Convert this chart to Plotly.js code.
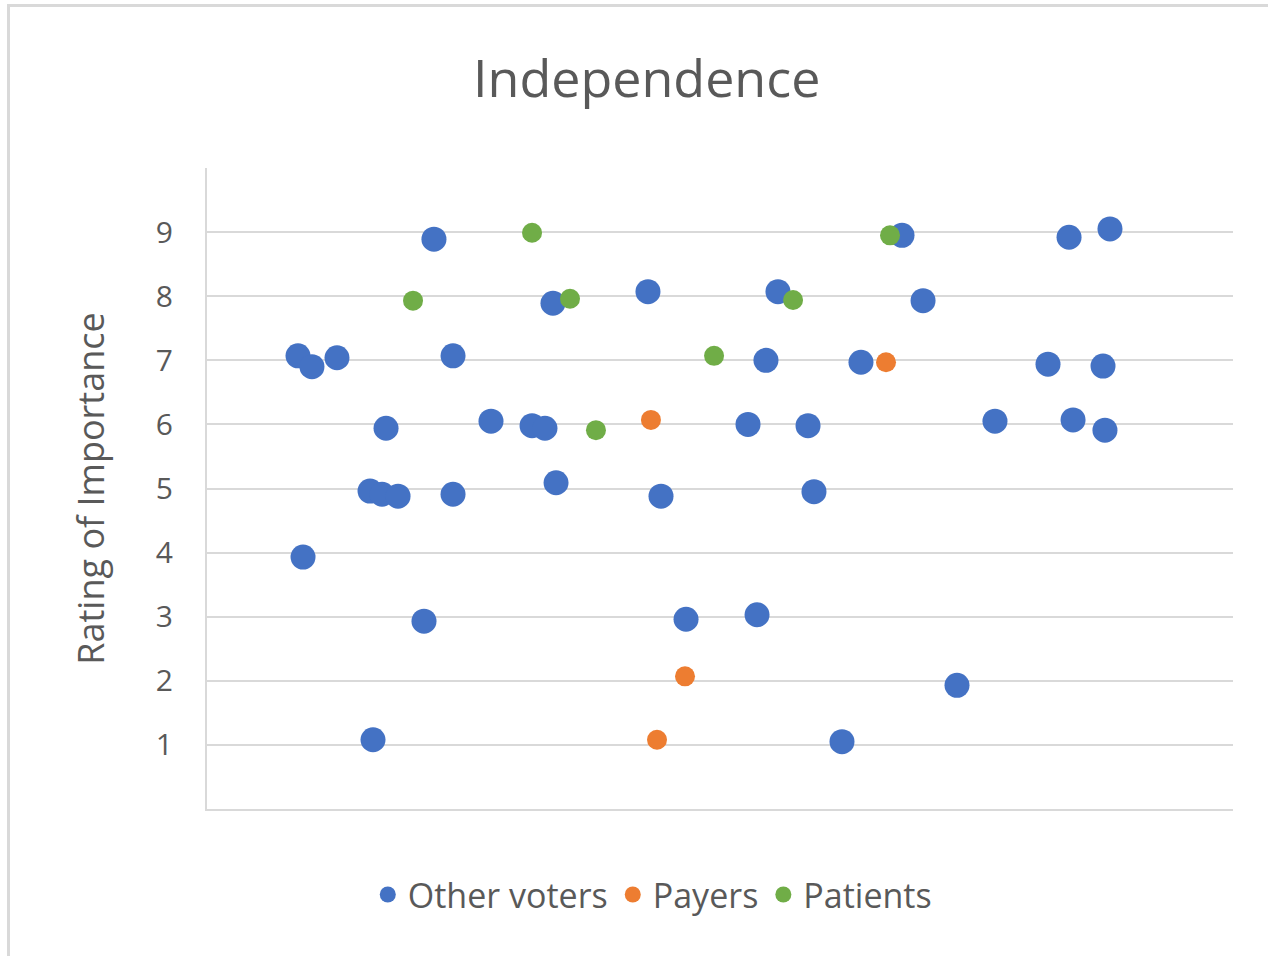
<!DOCTYPE html>
<html>
<head>
<meta charset="utf-8">
<script src="https://cdn.plot.ly/plotly-3.0.1.min.js"></script>
<style>
  html, body { margin: 0; padding: 0; background: #ffffff; }
  #chart { width: 1268px; height: 956px; }
  #frame { position: absolute; left: 7px; top: 4px; width: 1261px; height: 952px;
           border-top: 3px solid #d9d9d9; border-left: 3px solid #d9d9d9; pointer-events: none; }
</style>
</head>
<body>
<div id="chart"></div>
<div id="frame"></div>
<script>
// Jitter position (arbitrary horizontal units, 0-100) and rating for each voter
const otherX = [8.87, 10.23, 12.67, 22.12, 23.98, 17.45, 15.89, 17.06, 18.62, 23.98,
                9.36, 21.15, 16.18, 27.68, 31.68, 32.94, 33.72, 34.02, 42.98, 44.25,
                46.69, 53.61, 52.73, 55.65, 54.48, 58.58, 59.16, 61.89, 63.74, 67.74,
                69.79, 73.10, 76.80, 81.97, 84.02, 88.01, 84.41, 87.33, 87.52];
const otherY = [7.07, 6.90, 7.04, 8.89, 7.07, 5.94, 4.96, 4.91, 4.88, 4.91,
                3.93, 2.93, 1.08, 6.05, 5.98, 5.94, 7.89, 5.09, 8.07, 4.88,
                2.96, 3.03, 6.00, 8.07, 7.00, 5.98, 4.95, 1.05, 6.97, 8.95,
                7.93, 1.93, 6.05, 6.94, 8.92, 9.05, 6.07, 6.91, 5.91];
const payersX = [43.27, 66.18, 46.59, 43.86];
const payersY = [6.07, 6.97, 2.07, 1.08];
const patientsX = [20.08, 31.68, 35.38, 37.91, 49.42, 57.12, 66.57];
const patientsY = [7.93, 8.99, 7.96, 5.91, 7.07, 7.94, 8.95];

const seriesNames = ["Other voters", "Payers", "Patients"];
const yTickVals = [1, 2, 3, 4, 5, 6, 7, 8, 9, 10];
const yTickText = ["1", "2", "3", "4", "5", "6", "7", "8", "9", ""];
const chartTitle = "Independence";
const yTitle = "Rating of Importance";

const FONT = "'Open Sans', 'Noto Sans', sans-serif";
const TXT = "#595959";

const traces = [
  { x: otherX, y: otherY, name: seriesNames[0], type: "scatter", mode: "markers",
    marker: { color: "#4472c4", size: 25 } },
  { x: payersX, y: payersY, name: seriesNames[1], type: "scatter", mode: "markers",
    marker: { color: "#ed7d31", size: 20 } },
  { x: patientsX, y: patientsY, name: seriesNames[2], type: "scatter", mode: "markers",
    marker: { color: "#70ad47", size: 20 } }
];

const layout = {
  width: 1268, height: 956,
  margin: { l: 207, r: 35, t: 168, b: 147 },
  paper_bgcolor: "#ffffff", plot_bgcolor: "#ffffff",
  font: { family: FONT, color: TXT, size: 30 },
  title: { text: chartTitle, font: { family: FONT, size: 52, color: TXT },
           x: 0.51, xanchor: "center", xref: "container",
           y: 0.918, yanchor: "middle", yref: "container" },
  xaxis: { range: [0, 100], showgrid: false, zeroline: false, showticklabels: false,
           ticks: "", showline: true, linecolor: "#d9d9d9", linewidth: 2, fixedrange: true },
  yaxis: { range: [0, 10], tickvals: yTickVals, ticktext: yTickText, ticks: "",
           showgrid: true, gridcolor: "#d9d9d9", gridwidth: 2, zeroline: false,
           showline: true, linecolor: "#d9d9d9", linewidth: 2,
           ticklabelstandoff: 26,
           tickfont: { family: FONT, size: 30, color: TXT },
           title: { text: yTitle, font: { family: FONT, size: 36, color: TXT }, standoff: 40 } },
  showlegend: true,
  legend: { orientation: "h", x: 0.434, xanchor: "center", y: -0.134, yanchor: "middle",
            font: { family: FONT, size: 34, color: TXT }, itemwidth: 30,
            traceorder: "normal", bgcolor: "rgba(0,0,0,0)" }
};

Plotly.newPlot("chart", traces, layout, { staticPlot: true, displayModeBar: false });
</script>
</body>
</html>
